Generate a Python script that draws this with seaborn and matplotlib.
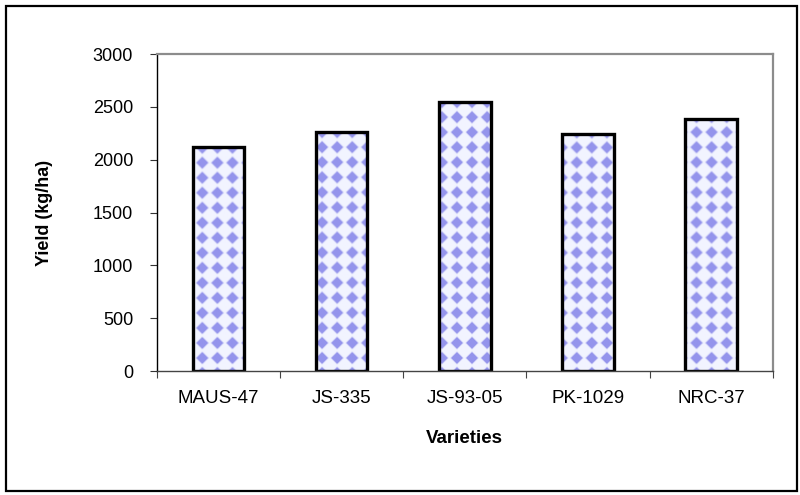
import numpy as np
import pandas as pd
import matplotlib
matplotlib.use('Agg')
import matplotlib.pyplot as plt
import seaborn as sns
from matplotlib.patches import Rectangle
from matplotlib.ticker import FixedLocator

varieties = ['MAUS-47', 'JS-335', 'JS-93-05', 'PK-1029', 'NRC-37']
yields = [2117, 2263, 2547, 2247, 2386]

df = pd.DataFrame({'variety': varieties, 'yield': yields})

sns.set_style('white')
plt.rcParams['font.family'] = ['Liberation Sans', 'DejaVu Sans']
plt.rcParams['text.color'] = 'black'
plt.rcParams['axes.labelcolor'] = 'black'
plt.rcParams['xtick.color'] = 'black'
plt.rcParams['ytick.color'] = 'black'

fig = plt.figure(figsize=(8, 4.95), dpi=100)
ax = fig.add_axes([0.196, 0.2505, 0.77, 0.6404])

sns.barplot(x='variety', y='yield', data=df, ax=ax, width=0.42,
            color='white', edgecolor='black', linewidth=2.4)

ax.set_xlim(-0.5, 4.5)
ax.set_ylim(0, 3000)
ax.set_yticks([0, 500, 1000, 1500, 2000, 2500, 3000])

# diamond texture for the bar fill
W, H = 616, 317
yy, xx = np.mgrid[0:H, 0:W]
u = np.abs(((xx + 8) % 15) - 7.5)
v = np.abs(((yy + 4) % 15) - 7.5)
d = u + v
a = np.clip((7.2 - d) / 2.2, 0, 1)
blue = np.array([148, 148, 236]) / 255
back = np.array([242, 244, 255]) / 255
tex = back[None, None, :] * (1 - a[..., None]) + blue[None, None, :] * a[..., None]

for p in ax.patches:
    p.set_facecolor('none')
    p.set_zorder(2)
    im = ax.imshow(tex, extent=(-0.5, 4.5, 0, 3000), aspect='auto',
                   interpolation='bilinear', zorder=1)
    im.set_clip_path(p)

ax.set_xlim(-0.5, 4.5)
ax.set_ylim(0, 3000)

# spines
for s in ['top', 'right']:
    ax.spines[s].set_color('#8c8c8c')
    ax.spines[s].set_linewidth(1.6)
ax.spines['left'].set_color('black')
ax.spines['left'].set_linewidth(1.0)
ax.spines['bottom'].set_color('#444444')
ax.spines['bottom'].set_linewidth(1.0)

ax.tick_params(axis='y', direction='out', length=5, width=0.8, color='#333333',
               left=True, labelsize=13, pad=12, labelcolor='black')
ax.xaxis.set_minor_locator(FixedLocator([-0.5, 0.5, 1.5, 2.5, 3.5, 4.5]))
ax.tick_params(axis='x', which='major', length=0, labelsize=13.5, pad=14,
               labelcolor='black')
ax.tick_params(axis='x', which='minor', direction='out', length=5, width=0.8,
               color='#444444', bottom=True)

ax.set_xlabel('Varieties', fontsize=13.5, fontweight='bold', color='black')
ax.set_ylabel('Yield (kg/ha)', fontsize=13, fontweight='bold', color='black')
ax.xaxis.set_label_coords(0.5, -0.185)
ax.yaxis.set_label_coords(-0.168, 0.5)

# outer chart border
fig.patches.append(Rectangle((6 / 800, 4 / 495), 791 / 800, 485 / 495,
                             transform=fig.transFigure, fill=False,
                             edgecolor='black', linewidth=1.6))

fig.savefig('out.png', dpi=100)
